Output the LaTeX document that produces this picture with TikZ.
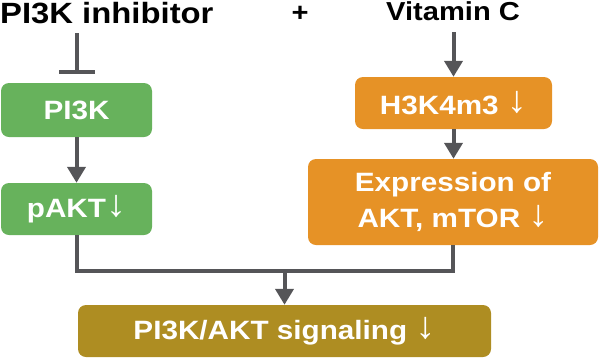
\documentclass[tikz,border=0pt]{standalone}
\usepackage{fontspec}
\usepackage{graphicx}
\setmainfont{Liberation Sans}[FakeStretch=1.12]
\usetikzlibrary{arrows.meta}
\definecolor{boxgreen}{RGB}{103,178,92}
\definecolor{boxorange}{RGB}{230,146,38}
\definecolor{boxolive}{RGB}{174,141,34}
\definecolor{linegray}{RGB}{85,85,88}
\newcommand{\dnarrow}{\raisebox{1.2pt}{\scalebox{1.35}[1.42]{\mdseries ↓}}}
\begin{document}
\begin{tikzpicture}[x=1pt,y=-1pt,
  box/.style={rounded corners=8pt, inner sep=0pt, text=white, align=center,
    font=\bfseries\fontsize{26.5}{35.7}\selectfont},
  title/.style={inner sep=0pt, font=\bfseries\fontsize{26}{30}\selectfont},
  conn/.style={draw=linegray, line width=4pt},
  arr/.style={conn, -{Triangle[width=18pt,length=16pt]}},
  inhib/.style={conn, -{Bar[width=36pt]}, shorten >=9pt}]
\useasboundingbox (0,0) rectangle (600,360);
% titles
\node[title, anchor=base west, font=\bfseries\fontsize{29.3}{32}\selectfont] (inh) at (0,23.3) {PI3K inhibitor};
\node[title, anchor=base] (plus) at (300,21.5) {+};
\node[title, anchor=base west] (vit) at (386,20.7) {Vitamin C};
% boxes
\node[box, fill=boxgreen, minimum width=151pt, minimum height=54pt] (pik) at (76.5,110) {PI3K};
\node[box, fill=boxgreen, minimum width=151pt, minimum height=52pt] (pakt) at (76.5,209) {pAKT\dnarrow};
\node[box, fill=boxorange, minimum width=197pt, minimum height=52pt] (h3) at (453.5,103) {H3K4m3 \dnarrow};
\node[box, fill=boxorange, minimum width=290pt, minimum height=86pt] (expr) at (453,202) {Expression of\\AKT, mTOR \dnarrow};
\node[box, fill=boxolive, minimum width=413pt, minimum height=52pt] (sig) at (284.5,331) {PI3K/AKT signaling \dnarrow};
% connectors
\coordinate (inhS) at (76.5,33);
\coordinate (vitS) at (453.5,32);
\coordinate (j) at (284.5,271);
\draw[inhib] (inhS) -- (pik.north);
\draw[arr] (vitS) -- (h3.north);
\draw[arr] (pik.south) -- (pakt.south |- pakt.north);
\draw[arr] (h3.south) -- (h3.south |- expr.north);
\draw[conn] (pakt.south) |- (j) -| (expr.south);
\draw[arr] (j) -- (sig.north);
\end{tikzpicture}
\end{document}
